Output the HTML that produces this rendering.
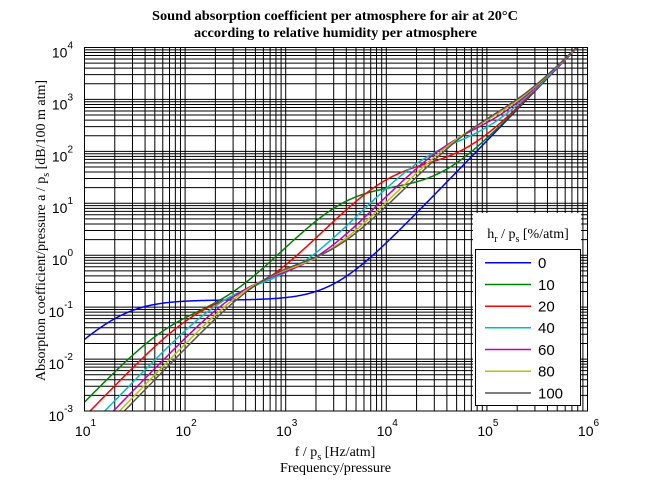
<!DOCTYPE html>
<html>
<head>
<meta charset="utf-8">
<style>
  html,body{margin:0;padding:0;background:#fff;}
  svg{display:block;}
  .ser{font-family:"Liberation Serif","DejaVu Serif",serif;}
  .san{font-family:"Liberation Sans","DejaVu Sans",sans-serif;}
</style>
</head>
<body>
<svg id="s" width="650" height="488" viewBox="0 0 650 488" xmlns="http://www.w3.org/2000/svg">
  <rect x="0" y="0" width="650" height="488" fill="#fff"/>
  <defs>
    <clipPath id="cp"><rect x="84.5" y="47.5" width="503" height="363.5"/></clipPath>
  </defs>
  <g id="grid" stroke="#000" stroke-width="1" fill="none"></g>
  <g id="curves" clip-path="url(#cp)" fill="none" stroke-width="1.5"></g>
  <rect x="84.5" y="47.5" width="503" height="363.5" fill="none" stroke="#000" stroke-width="1"/>

  <!-- legend -->
  <rect x="473" y="213" width="108" height="193" fill="#fff"/>
  <rect x="475.5" y="249.5" width="105" height="156" fill="#fff" stroke="#000" stroke-width="1"/>
  <text class="ser" x="528" y="238" font-size="14" text-anchor="middle">h<tspan font-size="10" dy="4">r</tspan><tspan dy="-4"> / p</tspan><tspan font-size="10" dy="4">s</tspan><tspan dy="-4"> [%/atm]</tspan></text>
  <g stroke-width="1.5">
    <line x1="485" y1="262.7" x2="531" y2="262.7" stroke="#0000ff"/>
    <line x1="485" y1="284.5" x2="531" y2="284.5" stroke="#008000"/>
    <line x1="485" y1="306.3" x2="531" y2="306.3" stroke="#ff0000"/>
    <line x1="485" y1="327.8" x2="531" y2="327.8" stroke="#00bfbf"/>
    <line x1="485" y1="349.5" x2="531" y2="349.5" stroke="#bf00bf"/>
    <line x1="485" y1="371.2" x2="531" y2="371.2" stroke="#bfbf00"/>
    <line x1="485" y1="393" x2="531" y2="393" stroke="#555555"/>
  </g>
  <g class="san" font-size="15">
    <text x="538" y="268">0</text>
    <text x="538" y="290">10</text>
    <text x="538" y="311.5">20</text>
    <text x="538" y="333">40</text>
    <text x="538" y="355">60</text>
    <text x="538" y="376.5">80</text>
    <text x="538" y="398.5">100</text>
  </g>

  <!-- title -->
  <text class="ser" x="335" y="20" font-size="14" font-weight="bold" text-anchor="middle" textLength="366" lengthAdjust="spacingAndGlyphs">Sound absorption coefficient per atmosphere for air at 20°C</text>
  <text class="ser" x="335.5" y="37" font-size="14" font-weight="bold" text-anchor="middle" textLength="283" lengthAdjust="spacingAndGlyphs">according to relative humidity per atmosphere</text>

  <!-- x label -->
  <text class="ser" x="335" y="456" font-size="14" text-anchor="middle">f / p<tspan font-size="10" dy="4">s</tspan><tspan dy="-4"> [Hz/atm]</tspan></text>
  <text class="ser" x="335.5" y="472" font-size="14" text-anchor="middle" textLength="111" lengthAdjust="spacingAndGlyphs">Frequency/pressure</text>

  <!-- y label -->
  <text class="ser" transform="translate(45,230.5) rotate(-90)" font-size="14" text-anchor="middle">Absorption coefficient/pressure a / p<tspan font-size="10" dy="4">s</tspan><tspan dy="-4"> [dB/100 m atm]</tspan></text>

  <!-- x tick labels -->
  <g class="san" font-size="14" text-anchor="middle">
    <text x="85.5" y="436">10<tspan font-size="10" dy="-10">1</tspan></text>
    <text x="186.1" y="436">10<tspan font-size="10" dy="-10">2</tspan></text>
    <text x="286.7" y="436">10<tspan font-size="10" dy="-10">3</tspan></text>
    <text x="387.3" y="436">10<tspan font-size="10" dy="-10">4</tspan></text>
    <text x="487.9" y="436">10<tspan font-size="10" dy="-10">5</tspan></text>
    <text x="588.5" y="436">10<tspan font-size="10" dy="-10">6</tspan></text>
  </g>
  <!-- y tick labels -->
  <g class="san" font-size="14" text-anchor="end">
    <text x="73" y="421">10<tspan font-size="10" dy="-9">-3</tspan></text>
    <text x="73" y="369">10<tspan font-size="10" dy="-9">-2</tspan></text>
    <text x="73" y="317">10<tspan font-size="10" dy="-9">-1</tspan></text>
    <text x="73" y="265">10<tspan font-size="10" dy="-9">0</tspan></text>
    <text x="73" y="213">10<tspan font-size="10" dy="-9">1</tspan></text>
    <text x="73" y="161.5">10<tspan font-size="10" dy="-9">2</tspan></text>
    <text x="73" y="109.5">10<tspan font-size="10" dy="-9">3</tspan></text>
    <text x="73" y="57.5">10<tspan font-size="10" dy="-9">4</tspan></text>
  </g>
</svg>
<script>
(function(){
  var NS="http://www.w3.org/2000/svg";
  var X0=84.5,X1=587.5,Y0=47.5,Y1=411;
  var dx=(X1-X0)/5, dy=(Y1-Y0)/7;
  function px(f){return X0+(Math.log10(f)-1)*dx;}
  function py(a){return Y1-(Math.log10(a)+3)*dy;}
  var grid=document.getElementById("grid");
  var d="";
  for(var e=1;e<=5;e++){
    for(var k=1;k<=9;k++){
      var x=px(k*Math.pow(10,e));
      d+="M"+x.toFixed(2)+" "+Y0+"V"+Y1;
    }
  }
  for(var e2=-3;e2<=3;e2++){
    for(var k2=1;k2<=9;k2++){
      var y=py(k2*Math.pow(10,e2));
      d+="M"+X0+" "+y.toFixed(2)+"H"+X1;
    }
  }
  var p=document.createElementNS(NS,"path");
  p.setAttribute("d",d);
  grid.appendChild(p);

  var T=293.15;
  var eO=0.01275*Math.exp(-2239.1/T), eN=0.1068*Math.exp(-3352/T);
  function alpha(f,h){
    var frO=24+4.04e4*h*(0.02+h)/(0.391+h);
    var frN=9+280*h;
    var o=eO/(frO+f*f/frO);
    var n=eN/(frN+f*f/frN);
    return 8.686*f*f*(1.84e-11+o+n)*100;
  }
  var psat=Math.pow(10,-6.8346*Math.pow(273.16/T,1.261)+4.6151);
  var hrs=[0,10,20,40,60,80,100];
  var cols=["#0000ff","#008000","#ff0000","#00bfbf","#bf00bf","#bfbf00","#555555"];
  var cg=document.getElementById("curves");
  for(var i=0;i<hrs.length;i++){
    var h=hrs[i]*psat;
    var s="";
    var N=600;
    for(var j=0;j<=N;j++){
      var lf=1+5*j/N;
      var f=Math.pow(10,lf);
      var a=alpha(f,h);
      var X=px(f), Y=py(a);
      if(Y<-2000)Y=-2000; if(Y>3000)Y=3000;
      s+=(j?"L":"M")+X.toFixed(2)+" "+Y.toFixed(2);
    }
    var pp=document.createElementNS(NS,"path");
    pp.setAttribute("d",s);
    pp.setAttribute("stroke",cols[i]);
    cg.appendChild(pp);
  }
})();
</script>
</body>
</html>
